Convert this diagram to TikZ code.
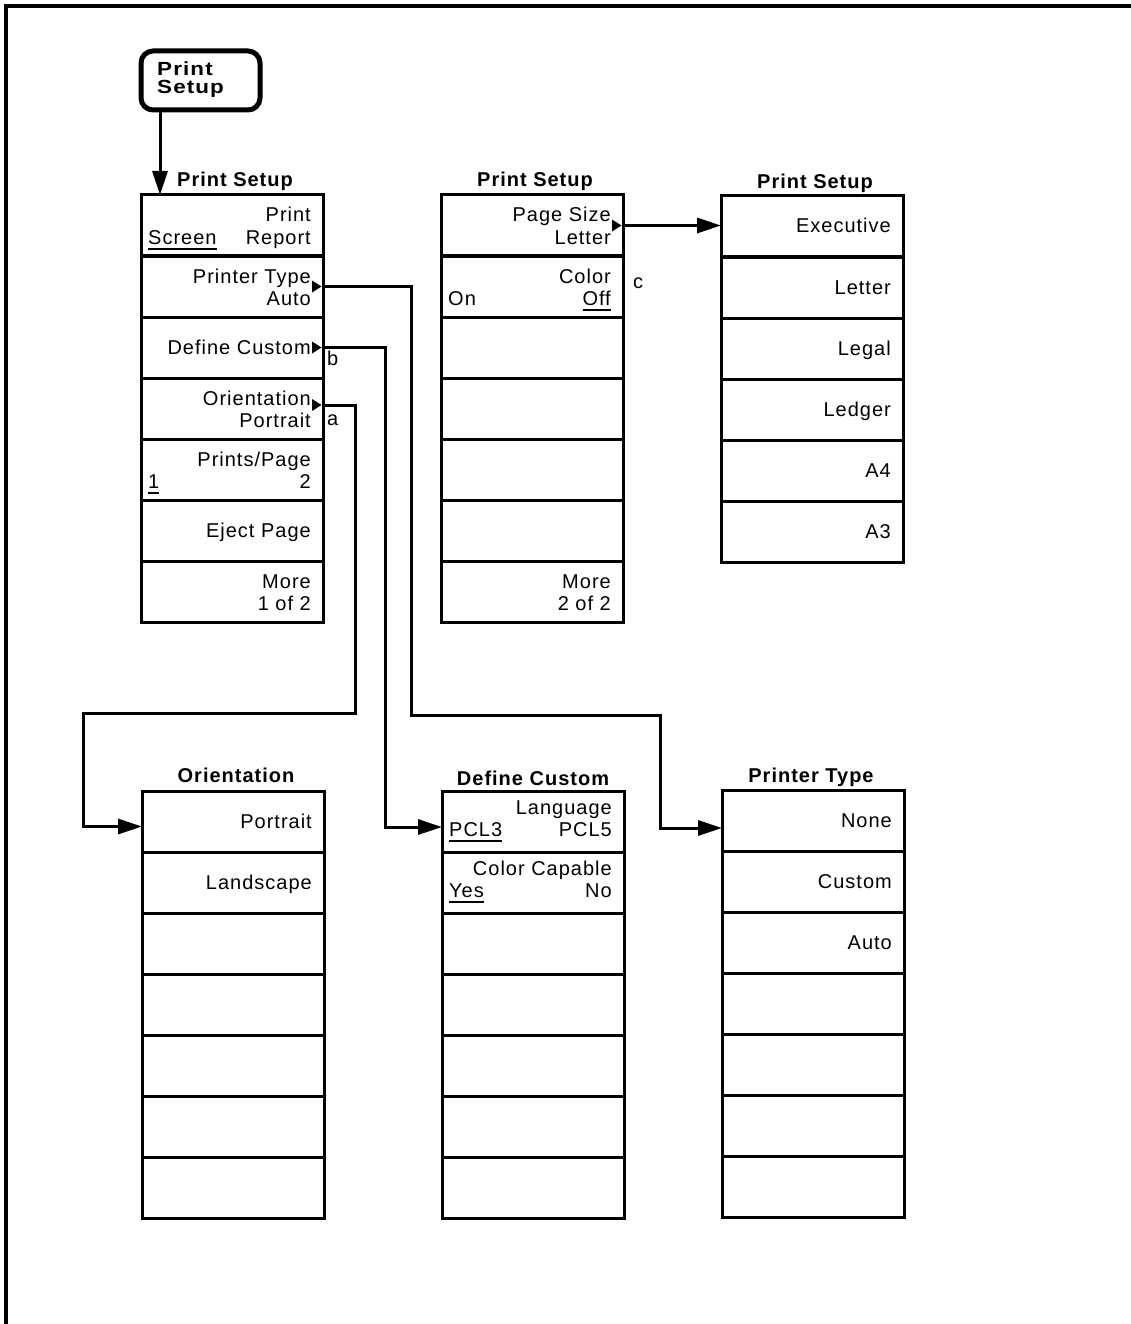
\documentclass[tikz,border=0pt]{standalone}
\usepackage{fontspec}
\setmainfont{Liberation Sans}[LetterSpace=5]
\usetikzlibrary{arrows.meta, positioning}

\def\rowoff{0}
\newcommand{\keyul}[1]{\setbox0\hbox{#1}\rlap{\rule[-6pt]{\wd0}{1.6pt}}\box0}
\newcommand{\keytop}[2]{\node[keytext] (#1t) at ([shift={(-12,{27+\rowoff})}]#1.north east) {#2};}
\newcommand{\keybot}[2]{\node[keytext] (#1b) at ([shift={(-12,{49+\rowoff})}]#1.north east) {#2};}
\newcommand{\keymid}[2]{\node[keytext] (#1m) at ([shift={(-12,{37+\rowoff})}]#1.north east) {#2};}
\newcommand{\keyleft}[2]{\node[lefttext] (#1l) at ([shift={(7,{49+\rowoff})}]#1.north west) {\keyul{#2}};}
\newcommand{\keytri}[2][0]{%
	\fill ([shift={(-11,{#1-6})}]#2.east) -- ([shift={(-1.5,#1)}]#2.east) -- ([shift={(-11,{#1+6})}]#2.east) -- cycle;%
}

\tikzset{
	softkey/.style = {draw, line width=3pt, minimum width=182pt, minimum height=61pt, inner sep=0pt, outer sep=0pt, anchor=north west},
	menutitle/.style = {font=\fontsize{20}{22}\selectfont\bfseries, anchor=base, inner sep=0pt},
	keytext/.style = {anchor=base east, inner sep=0pt},
	lefttext/.style = {anchor=base west, inner sep=0pt},
	link/.style = {line width=3pt},
	linkarrow/.style = {link, -{Stealth[inset=0pt, length=24pt, width=15pt]}},
}

\begin{document}
\begin{tikzpicture}[x=1pt, y=-1pt, font=\fontsize{20}{22}\selectfont]
	\useasboundingbox (0,0) rectangle (1130,1324);
	
	% frame
	\draw[line width=4pt] (6,1340) -- (6,6) -- (1140,6);
	
	% hardkey
	\node[draw, line width=5pt, rounded corners=12pt, minimum width=119pt, minimum height=59pt, inner sep=0pt, outer sep=0pt] (key) at (200.5,80.5) {};
	\node[lefttext, font=\fontsize{19}{20}\selectfont\bfseries] (keyt1) at (157,76) {\scalebox{1.18}[1]{Print}};
	\node[lefttext, font=\fontsize{19}{20}\selectfont\bfseries] (keyt2) at (157,94) {\scalebox{1.18}[1]{Setup}};
	
	% menus
	\foreach \n/\x/\y/\k in {A/141/195/7, B/441/195/7, C/721/196/6, D/142/791/7, E/442/791/7, F/722/790/7}
		\foreach \i in {1,...,\k}
			\node[softkey] (\n\i) at (\x,{\y + 61*(\i-1)}) {};
	
	\node[menutitle] (At) at ([shift={(3,-8)}]A1.north) {Print Setup};
	\node[menutitle] (Bt) at ([shift={(3,-8)}]B1.north) {Print Setup};
	\node[menutitle] (Ct) at ([shift={(3,-7)}]C1.north) {Print Setup};
	\node[menutitle] (Dt) at ([shift={(3,-9)}]D1.north) {Orientation};
	\node[menutitle] (Et) at ([shift={(0,-6)}]E1.north) {Define Custom};
	\node[menutitle] (Ft) at ([shift={(-2,-8)}]F1.north) {Printer Type};
	
	% Print Setup 1 of 2
	\keytop{A1}{Print}
	\keybot{A1}{Report}
	\keyleft{A1}{Screen}
	\keytop{A2}{Printer Type}
	\keybot{A2}{Auto}
	\keymid{A3}{Define Custom}
	\keytop{A4}{Orientation}
	\keybot{A4}{Portrait}
	\keytop{A5}{Prints/Page}
	\keybot{A5}{2}
	\keyleft{A5}{1}
	\keymid{A6}{Eject Page}
	\keytop{A7}{More}
	\keybot{A7}{1 of 2}
	
	% Print Setup 2 of 2
	\keytop{B1}{Page Size}
	\keybot{B1}{Letter}
	\keytop{B2}{Color}
	\keybot{B2}{\keyul{Off}}
	\node[lefttext] (B2l) at ([shift={(7,49)}]B2.north west) {On};
	\keytop{B7}{More}
	\keybot{B7}{2 of 2}
	
	% Page Size
	\keymid{C1}{Executive}
	\keymid{C2}{Letter}
	\keymid{C3}{Legal}
	\keymid{C4}{Ledger}
	\keymid{C5}{A4}
	\keymid{C6}{A3}
	
	% Orientation
	\keymid{D1}{Portrait}
	\keymid{D2}{Landscape}
	
	% Define Custom
	\def\rowoff{-4}
	\keytop{E1}{Language}
	\keybot{E1}{PCL5}
	\keyleft{E1}{PCL3}
	\keytop{E2}{Color Capable}
	\keybot{E2}{No}
	\keyleft{E2}{Yes}
	\def\rowoff{0}
	
	% Printer Type
	\keymid{F1}{None}
	\keymid{F2}{Custom}
	\keymid{F3}{Auto}
	
	% submenu markers
	\keytri{A2}
	\keytri{A3}
	\keytri[-3.5]{A4}
	\keytri{B1}
	
	\node[lefttext] (lbla) at (327,425) {a};
	\node[lefttext] (lblb) at (327,365) {b};
	\node[lefttext] (lblc) at (633,288) {c};
	
	% connectors
	\coordinate (keyout) at ([xshift=19pt]key.south west);
	\coordinate (A4out) at ([yshift=3.5pt]A4.east);
	\coordinate (Din) at ([yshift=-5pt]D1.west);
	\coordinate (Ein) at ([yshift=-5.5pt]E1.west);
	\coordinate (Fin) at ([yshift=-7.5pt]F1.west);
	
	\draw[linkarrow] (keyout) -- (keyout |- A1.north);
	\draw[linkarrow] (B1.east) -- (B1.east -| C1.west);
	\draw[linkarrow] (A2.east) -| (411,715) -| ([xshift=-62pt]Fin) -- (Fin);
	\draw[linkarrow] (A3.east) -| ([xshift=-57pt]Ein) -- (Ein);
	\draw[linkarrow] (A4out) -| (355,713) -| ([xshift=-59pt]Din) -- (Din);
\end{tikzpicture}
\end{document}
